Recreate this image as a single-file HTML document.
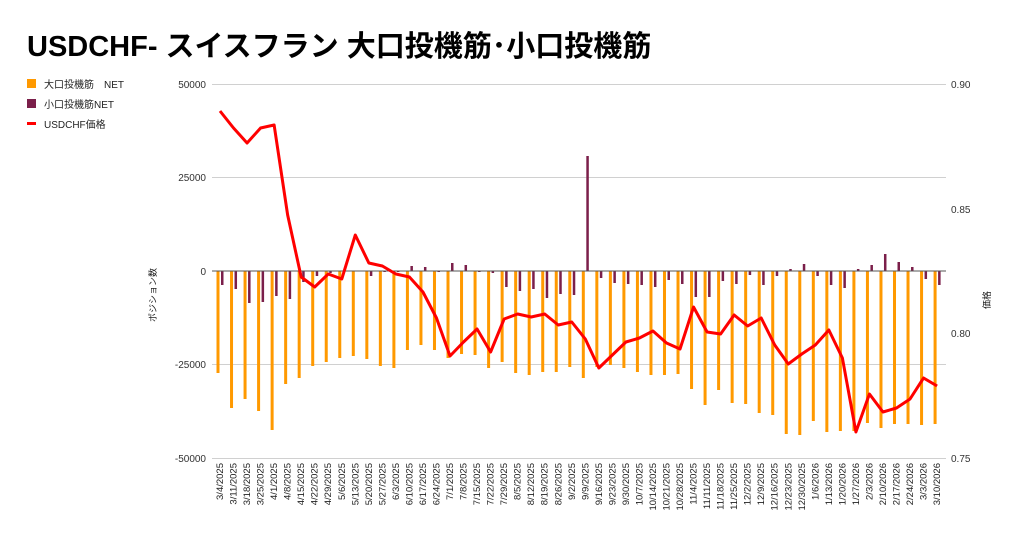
<!DOCTYPE html>
<html><head><meta charset="utf-8">
<style>
body{margin:0;background:#fff;width:1024px;height:541px;overflow:hidden;font-family:"Liberation Sans","Noto Sans CJK JP",sans-serif;}
</style></head><body>
<svg id="s" width="1024" height="541" xmlns="http://www.w3.org/2000/svg" font-family="Liberation Sans, Noto Sans CJK JP, sans-serif">
<text x="27" y="56" font-size="29" font-weight="bold" fill="#000">USDCHF- スイスフラン 大口投機筋･小口投機筋</text>
<rect x="27" y="79" width="9" height="9" fill="#ff9900"/>
<text x="44" y="88" font-size="10" fill="#222">大口投機筋　NET</text>
<rect x="27" y="99" width="9" height="9" fill="#7b1f4a"/>
<text x="44" y="108" font-size="10" fill="#222">小口投機筋NET</text>
<rect x="27" y="122" width="9" height="3" fill="#ff0000"/>
<text x="44" y="128" font-size="10" fill="#222">USDCHF価格</text>
<g stroke="#d0d0d0" stroke-width="1">
<line x1="212" x2="946" y1="84.5" y2="84.5"/>
<line x1="212" x2="946" y1="177.5" y2="177.5"/>
<line x1="212" x2="946" y1="364.5" y2="364.5"/>
<line x1="212" x2="946" y1="458.5" y2="458.5"/>
</g>
<g font-size="10" fill="#333" text-anchor="end">
<text x="206" y="88">50000</text><text x="206" y="181">25000</text><text x="206" y="275">0</text><text x="206" y="368">-25000</text><text x="206" y="462">-50000</text>
</g>
<g font-size="10" fill="#333">
<text x="951" y="88">0.90</text><text x="951" y="213">0.85</text><text x="951" y="337">0.80</text><text x="951" y="462">0.75</text>
</g>
<text font-size="9" fill="#222" transform="translate(156,295) rotate(-90)" text-anchor="middle">ポジション数</text>
<text font-size="9" fill="#222" transform="translate(990,300) rotate(-90)" text-anchor="middle">価格</text>
<g id="bars"></g>
<line x1="212" x2="946" y1="271" y2="271" stroke="#555" stroke-width="1"/>
<polyline id="ln" fill="none" stroke="#ff0000" stroke-width="3" stroke-linejoin="round"/>
<g id="lbl" font-size="9.5" fill="#222"></g>
</svg>
<script>
var o=[373,408,399,411,430,384,378,366,362,358,356,359,366,368,350,345,350,358,354,355,368,362,373,375,372,372,367,378,367,365,368,372,375,375,374,389,405,390,403,404,413,415,434,435,421,432,431,431,423,428,424,424,425,424];
var p=[285,289,303,302,296,299,282,276,273,272,271,276,272,272,266,267,272,263,265,272,273,287,291,289,298,294,295,156,278,283,284,285,287,280,284,297,297,281,284,275,285,276,269,264,276,285,288,269,265,254,262,267,279,285];
var l=[111,128,143,128,125,215,277,287,274,279,235,263,266,274,277,292,318,356,342,329,352,319,314,317,314,325,322,339,368,355,342,338,331,343,349,307,332,334,315,326,318,345,364,354,345,330,358,432,394,412,408,399,378,386];
var d=["3/4/2025"],dt=new Date(2025,2,4);
for(var i=1;i<54;i++){dt.setDate(dt.getDate()+7);d.push((dt.getMonth()+1)+"/"+dt.getDate()+"/"+dt.getFullYear());}
var b="",t="",pts=[],ns="http://www.w3.org/2000/svg";
for(var i=0;i<54;i++){var x=218+i*13.53;
b+='<rect x="'+(x-1.5)+'" y="271" width="3" height="'+(o[i]-271)+'" fill="#ff9900"/>';
var y0=Math.min(p[i],271),h=Math.abs(p[i]-271);
b+='<rect x="'+(x+3)+'" y="'+y0+'" width="2.5" height="'+h+'" fill="#7b1f4a"/>';
pts.push((x+2)+","+l[i]);
t+='<text transform="translate('+(x+5)+',463) rotate(-90)" text-anchor="end">'+d[i]+'</text>';}
document.getElementById("bars").innerHTML=b;
document.getElementById("lbl").innerHTML=t;
document.getElementById("ln").setAttribute("points",pts.join(" "));
</script>
</body></html>
